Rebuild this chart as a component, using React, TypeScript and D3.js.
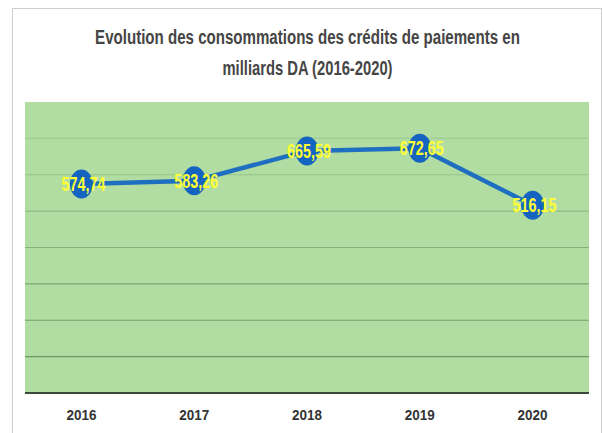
import React, { useLayoutEffect, useRef } from "react";
import * as d3 from "d3";

const years = ["2016", "2017", "2018", "2019", "2020"];
const values = [574.74, 583.26, 665.59, 672.65, 516.15];
const valueLabels = ["574,74", "583,26", "665,59", "672,65", "516,15"];
const yTicks = [100, 200, 300, 400, 500, 600, 700];
const titleLines = [
  "Evolution des consommations des crédits de paiements en",
  "milliards  DA (2016-2020)",
];
const titleWidths = [425, 170];

const W = 602;
const H = 433;
const plot = { left: 25, right: 589, top: 102, bottom: 393 };

export default function App() {
  const titleRef = useRef<SVGGElement | null>(null);
  const x = d3
    .scaleBand<string>()
    .domain(years)
    .range([plot.left, plot.right]);
  const y = d3.scaleLinear().domain([0, 800]).range([plot.bottom, plot.top]);
  const cx = (yr: string) => (x(yr) as number) + x.bandwidth() / 2;
  const line = d3
    .line<number>()
    .x((_, i) => cx(years[i]))
    .y((d) => y(d));
  const gridColor = d3.interpolateRgb("#a0cc92", "#6a9866");
  const narrow = "'Liberation Sans Narrow', 'Arial Narrow', 'Liberation Sans', Arial, sans-serif";

  useLayoutEffect(() => {
    if (!titleRef.current) return;
    d3.select(titleRef.current)
      .selectAll<SVGTextElement, unknown>("text")
      .each(function (_, i) {
        const len = this.getComputedTextLength();
        const s = len > 0 ? titleWidths[i] / len : 1;
        const ty = i === 0 ? 44 : 75;
        d3.select(this).attr("transform", `translate(307.5,${ty}) scale(${s},1)`);
      });
  }, []);

  return (
    <div style={{ position: "absolute", left: 0, top: 0 }}>
      <svg width={W} height={H} style={{ display: "block", background: "#ffffff" }}>
        <rect x={12.5} y={8.5} width={W - 13} height={H} fill="#ffffff" stroke="#cfcfcf" strokeWidth={1} />
        <g ref={titleRef}>
          {titleLines.map((t, i) => (
            <text
              key={i}
              x={0}
              y={0}
              transform={`translate(307.5,${i === 0 ? 44 : 75}) scale(0.75,1)`}
              textAnchor="middle"
              fontFamily={narrow}
              fontSize={21}
              fontWeight={700}
              fill="#454545"
            >
              {t}
            </text>
          ))}
        </g>
        <rect
          x={plot.left}
          y={plot.top}
          width={plot.right - plot.left}
          height={plot.bottom - plot.top}
          fill="#b1dda2"
        />
        {yTicks.map((t, i) => (
          <line
            key={t}
            x1={plot.left}
            x2={plot.right}
            y1={y(t)}
            y2={y(t)}
            stroke={gridColor(1 - i / (yTicks.length - 1))}
            strokeWidth={1.2}
          />
        ))}
        <line x1={plot.left} x2={plot.right} y1={plot.bottom} y2={plot.bottom} stroke="#3a4a3a" strokeWidth={2} />
        {years.map((yr) => (
          <text
            key={yr}
            x={cx(yr)}
            y={420}
            textAnchor="middle"
            fontFamily={narrow}
            fontSize={15}
            fontWeight={700}
            fill="#333333"
            textLength={30}
            lengthAdjust="spacingAndGlyphs"
          >
            {yr}
          </text>
        ))}
        <path d={line(values) || ""} fill="none" stroke="#1f6fc0" strokeWidth={4.5} strokeLinejoin="round" />
        {values.map((v, i) => (
          <ellipse key={i} cx={cx(years[i])} cy={y(v)} rx={11.5} ry={14.5} fill="#1565c0" />
        ))}
        {values.map((v, i) => (
          <text
            key={"l" + i}
            x={cx(years[i]) + 2}
            y={y(v) + 7}
            textAnchor="middle"
            fontFamily={narrow}
            fontSize={20}
            fontWeight={700}
            fill="#ffff33"
            textLength={44}
            lengthAdjust="spacingAndGlyphs"
          >
            {valueLabels[i]}
          </text>
        ))}
      </svg>
    </div>
  );
}
